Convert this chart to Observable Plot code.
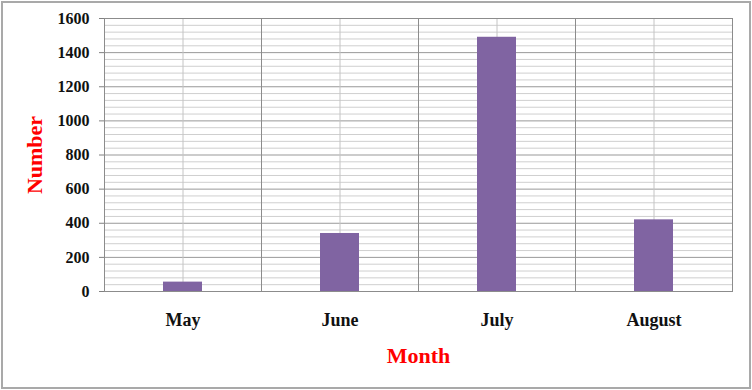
<!DOCTYPE html>
<html>
<head>
<meta charset="utf-8">
<script src="https://cdn.jsdelivr.net/npm/d3@7"></script>
<script src="https://cdn.jsdelivr.net/npm/@observablehq/plot@0.6"></script>
<style>
  html, body { margin: 0; padding: 0; background: #fff; }
  #wrap { position: relative; width: 752px; height: 390px; overflow: hidden; }
  #wrap svg { position: absolute; left: 0; top: 0; }
  #border { position: absolute; left: 1px; top: 1px; width: 746px; height: 384px;
            border: 2px solid #a9a9a9; pointer-events: none; }
</style>
</head>
<body>
<div id="wrap"><div id="border"></div></div>
<script>
const months = ["May", "June", "July", "August"];
const counts = [55, 340, 1490, 420];
const yTicks = [0, 200, 400, 600, 800, 1000, 1200, 1400, 1600];
const minorStep = 40;

const data = months.map((m, i) => ({month: m, value: counts[i]}));
const minorTicks = d3.range(0, 1600 + 1, minorStep).filter(v => !yTicks.includes(v));

const chart = Plot.plot({
  width: 752,
  height: 390,
  marginLeft: 104,
  marginRight: 20,
  marginTop: 18,
  marginBottom: 99,
  style: {fontFamily: "'Liberation Serif', 'Times New Roman', serif", fontWeight: "bold", background: "transparent"},
  fx: {domain: months, padding: 0, label: null},
  x: {domain: ["bar"], paddingInner: 0.75, paddingOuter: 0.375, axis: null},
  y: {domain: [0, 1600], axis: null},
  marks: [
    Plot.ruleY(minorTicks, {stroke: "#cfcfcf", strokeWidth: 1}),
    Plot.ruleY(yTicks, {stroke: "#999999", strokeWidth: 1}),
    Plot.ruleX(["bar"], {x: d => d, stroke: "#c4c4c4", strokeWidth: 1}),
    Plot.barY(data, {fx: "month", x: () => "bar", y: "value", fill: "#8064a2"}),
    Plot.frame({stroke: "#8c8c8c", strokeWidth: 1}),
    Plot.axisY({
      ticks: yTicks, tickSize: 5, tickPadding: 10, stroke: "#808080",
      fill: "#111", fontSize: 16, tickFormat: d => String(d), label: null
    }),
    Plot.axisY({
      ticks: [], tickSize: 0, fill: "#ff0000", fontSize: 22,
      label: "Number", labelAnchor: "center", labelOffset: 78, labelArrow: "none"
    }),
    Plot.axisFx({
      anchor: "bottom", tickSize: 0, tickPadding: 22, fontSize: 18, fill: "#111",
      label: null
    }),
    Plot.axisFx({
      anchor: "bottom", ticks: [], tickSize: 0, fill: "#ff0000", fontSize: 22,
      label: "Month", labelAnchor: "center", labelOffset: 71, labelArrow: "none"
    })
  ]
});

document.getElementById("wrap").prepend(chart);
</script>
</body>
</html>
